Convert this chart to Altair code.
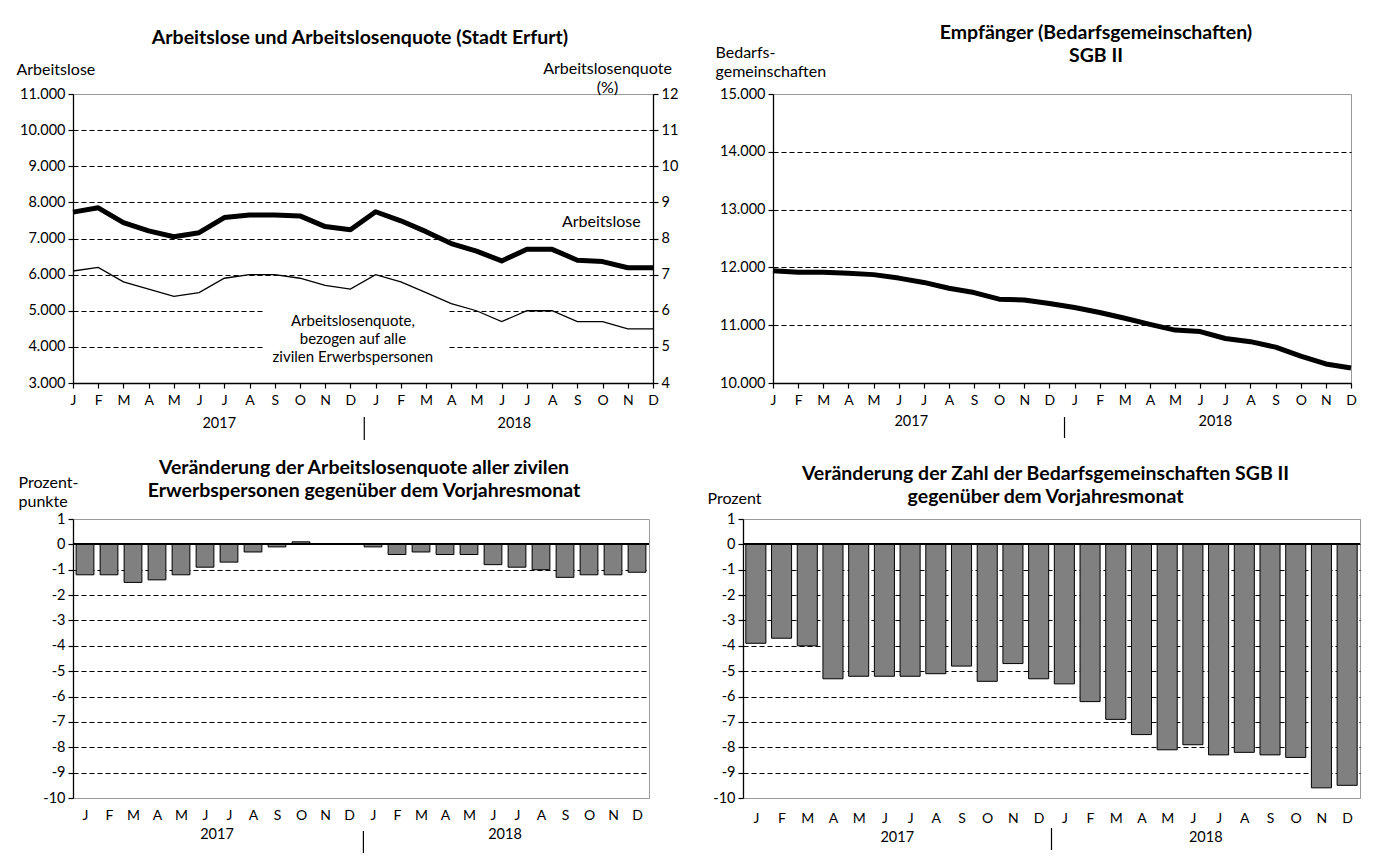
import altair as alt
import pandas as pd

FONT = "Lato"

# ---------------- data ----------------
months = ["J", "F", "M", "A", "M", "J", "J", "A", "S", "O", "N", "D"] * 2
month_idx = list(range(24))
years = ["2017", "2018"]

arbeitslose = [7730, 7850, 7440, 7210, 7050, 7160, 7580, 7650, 7650, 7625, 7330, 7240,
               7740, 7490, 7190, 6860, 6650, 6380, 6700, 6700, 6400, 6360, 6190, 6190]
quote = [7.1, 7.2, 6.8, 6.6, 6.4, 6.5, 6.9, 7.0, 7.0, 6.9, 6.7, 6.6,
         7.0, 6.8, 6.5, 6.2, 6.0, 5.7, 6.0, 6.0, 5.7, 5.7, 5.5, 5.5]
bedarfsgem = [11940, 11915, 11915, 11900, 11875, 11815, 11740, 11640, 11565, 11450, 11435, 11375,
              11305, 11220, 11120, 11015, 10915, 10890, 10770, 10715, 10620, 10465, 10330, 10260]
d_quote = [-1.2, -1.2, -1.5, -1.4, -1.2, -0.9, -0.7, -0.3, -0.1, 0.1, 0.0, 0.0,
           -0.1, -0.4, -0.3, -0.4, -0.4, -0.8, -0.9, -1.0, -1.3, -1.2, -1.2, -1.1]
d_bedarfsgem = [-3.9, -3.7, -4.0, -5.3, -5.2, -5.2, -5.2, -5.1, -4.8, -5.4, -4.7, -5.3,
                -5.5, -6.2, -6.9, -7.5, -8.1, -7.9, -8.3, -8.2, -8.3, -8.4, -9.6, -9.5]

al_ticks = list(range(3000, 11001, 1000))
q_ticks = list(range(4, 13))
bg_ticks = list(range(10000, 15001, 1000))
pct_ticks = list(range(-10, 2))

month_expr = "[" + ",".join("'%s'" % m for m in months) + "][datum.value]"
de_fmt = "replace(format(datum.value, ','), ',', '.')"
plain_fmt = "'' + datum.value"

GRID_DASH = [5, 3]
BORDER = "#9a9a9a"
BAR_FILL = "#808080"
TITLE_FS = 19.5
AXT_FS = 16
LBL_FS = 14.5
MON_FS = 14
ML_LH = 19.5
IN_FS = 15
IN_LH = 18


def grid_color(top, bottom=None):
    test = "datum.value == %s" % top
    if bottom is not None:
        test += " || datum.value == %s" % bottom
    return {"condition": {"test": test, "value": BORDER}, "value": "black"}


def year_layers(h, pos, sep, y_text, y_sep0, y_sep1, xsc, xax):
    ydf = pd.DataFrame({"pos": pos, "year": years})
    txt = alt.Chart(ydf).mark_text(font=FONT, fontSize=LBL_FS, baseline="middle", color="black").encode(
        x=alt.X("pos:Q", scale=xsc, axis=xax), y=alt.value(h + y_text), text="year:N")
    rule = alt.Chart(pd.DataFrame({"s": [sep]})).mark_rule(color="black", strokeWidth=1.2).encode(
        x=alt.X("s:Q", scale=xsc, axis=xax), y=alt.value(h + y_sep0), y2=alt.value(h + y_sep1))
    return txt, rule


# ---------------- shared x for line panels ----------------
sc_xl = alt.Scale(domain=[0, 23], nice=False, zero=False)
ax_xl = alt.Axis(values=month_idx, labelExpr=month_expr, title=None, grid=False,
                 tickSize=5, labelPadding=5, labelFontSize=MON_FS, labelAngle=0,
                 labelFlush=False, labelOverlap=False)

# ---------------- panel 1: Arbeitslose / Quote ----------------
W1, H1 = 580, 289
df1 = pd.DataFrame({"i": month_idx, "al": arbeitslose, "q": quote})
sc_al = alt.Scale(domain=[3000, 11000], nice=False, zero=False)
ax_al = alt.Axis(values=al_ticks, labelExpr=de_fmt, grid=True, gridDash=GRID_DASH,
                 gridColor=grid_color(11000), tickSize=5, labelPadding=3, labelFontSize=LBL_FS,
                 labelOverlap=False,
                 title="Arbeitslose", titleAngle=0, titleAlign="left", titleBaseline="top",
                 titleX=-57, titleY=-33)

left1 = alt.Chart(df1).mark_line(color="black", strokeWidth=5, strokeJoin="round").encode(
    x=alt.X("i:Q", scale=sc_xl, axis=ax_xl), y=alt.Y("al:Q", scale=sc_al, axis=ax_al))

box = pd.DataFrame({"x": [7.55], "x2": [14.85], "y": [3650], "y2": [5150]})
box_l = alt.Chart(box).mark_rect(color="white").encode(
    x=alt.X("x:Q", scale=sc_xl, axis=ax_xl), x2="x2:Q",
    y=alt.Y("y:Q", scale=sc_al, axis=ax_al), y2="y2:Q")

lab_al = pd.DataFrame({"x": [20.95], "y": [7470], "t": ["Arbeitslose"]})
lab_al_l = alt.Chart(lab_al).mark_text(font=FONT, fontSize=AXT_FS, color="black").encode(
    x=alt.X("x:Q", scale=sc_xl, axis=ax_xl), y=alt.Y("y:Q", scale=sc_al, axis=ax_al), text="t:N")
lab_q_l = alt.Chart(pd.DataFrame({"x": [11.1], "y": [4720]})).mark_text(
    font=FONT, fontSize=IN_FS, color="black", lineHeight=IN_LH,
    text=["Arbeitslosenquote,", "bezogen auf alle", "zivilen Erwerbspersonen"]).encode(
    x=alt.X("x:Q", scale=sc_xl, axis=ax_xl), y=alt.Y("y:Q", scale=sc_al, axis=ax_al))
yt1, ys1 = year_layers(H1, [5.8, 17.5], 11.55, 41, 34, 57, sc_xl, ax_xl)

right1 = alt.Chart(df1).mark_line(color="black", strokeWidth=1.3).encode(
    x=alt.X("i:Q", scale=sc_xl, axis=ax_xl),
    y=alt.Y("q:Q", scale=alt.Scale(domain=[4, 12], nice=False, zero=False),
            axis=alt.Axis(orient="right", values=q_ticks, labelExpr=plain_fmt, grid=False, tickSize=5,
                          labelPadding=3, labelFontSize=LBL_FS, labelOverlap=False,
                          title=["Arbeitslosenquote", "(%)"], titleAngle=0, titleAlign="center",
                          titleBaseline="top", titleX=-46, titleY=-34, titleLineHeight=ML_LH)))

p1 = alt.layer(alt.layer(box_l, left1, lab_al_l, lab_q_l, yt1, ys1), right1).resolve_scale(
    y="independent").properties(
    width=W1, height=H1,
    title=alt.TitleParams(["Arbeitslose und Arbeitslosenquote  (Stadt Erfurt)"], frame="group",
                          anchor="middle", offset=12, dx=-3))

# ---------------- panel 2: Bedarfsgemeinschaften ----------------
W2, H2 = 578, 289
df2 = pd.DataFrame({"i": month_idx, "bg": bedarfsgem})
line2 = alt.Chart(df2).mark_line(color="black", strokeWidth=5, strokeJoin="round").encode(
    x=alt.X("i:Q", scale=sc_xl, axis=ax_xl),
    y=alt.Y("bg:Q", scale=alt.Scale(domain=[10000, 15000], nice=False, zero=False),
            axis=alt.Axis(values=bg_ticks, labelExpr=de_fmt, grid=True, gridDash=GRID_DASH,
                          gridColor=grid_color(15000), tickSize=5, labelPadding=3, labelFontSize=LBL_FS,
                          labelOverlap=False,
                          title=["Bedarfs-", "gemeinschaften"], titleAngle=0, titleAlign="left",
                          titleBaseline="top", titleX=-58, titleY=-50, titleLineHeight=ML_LH)))
yt2, ys2 = year_layers(H2, [5.5, 17.6], 11.6, 39, 34, 55, sc_xl, ax_xl)
p2 = alt.layer(line2, yt2, ys2).properties(
    width=W2, height=H2,
    title=alt.TitleParams(["Empfänger (Bedarfsgemeinschaften)", "SGB II"], frame="group",
                          anchor="middle", offset=-22, dx=34, lineHeight=23))


# ---------------- bar panels ----------------
def bar_panel(values, w, h, half, ytitle, tX, tY, title, t_off, t_dx, lab_pad, ypos, sep, yy):
    df = pd.DataFrame({"i": month_idx, "v": values})
    xsc = alt.Scale(domain=[-0.5, 23.5], nice=False, zero=False)
    xax = alt.Axis(values=month_idx, labelExpr=month_expr, title=None, grid=False,
                   ticks=False, domain=False, labelPadding=lab_pad, labelFontSize=MON_FS,
                   labelAngle=0, labelFlush=False, labelOverlap=False)
    ysc = alt.Scale(domain=[-10, 1], nice=False, zero=False)
    yax = alt.Axis(values=pct_ticks, labelExpr=plain_fmt, grid=True, gridDash=GRID_DASH,
                   gridColor=grid_color(1, -10), tickSize=5, labelPadding=3, labelFontSize=LBL_FS,
                   labelOverlap=False,
                   title=ytitle, titleAngle=0, titleAlign="left", titleBaseline="top",
                   titleX=tX, titleY=tY, titleLineHeight=ML_LH)
    bars = alt.Chart(df).transform_calculate(
        xa="datum.i - %f" % half, xb="datum.i + %f" % half, z="0").mark_bar(
        fill=BAR_FILL, stroke="black", strokeWidth=1).encode(
        x=alt.X("xa:Q", scale=xsc, axis=xax), x2="xb:Q",
        y=alt.Y("v:Q", scale=ysc, axis=yax), y2="z:Q")
    zero = alt.Chart(df).mark_rule(color="black", strokeWidth=1.5).encode(
        y=alt.Y(datum=0, scale=ysc, axis=yax))
    yt, ys = year_layers(h, ypos, sep, yy[0], yy[1], yy[2], xsc, xax)
    return alt.layer(bars, zero, yt, ys).properties(
        width=w, height=h,
        title=alt.TitleParams(title, frame="group", anchor="middle", offset=t_off, dx=t_dx, lineHeight=23))


p3 = bar_panel(d_quote, 576, 279, 0.37, ["Prozent-", "punkte"], -55, -45,
               ["Veränderung der Arbeitslosenquote aller zivilen",
                "Erwerbspersonen gegenüber dem Vorjahresmonat"], -27, 3, 10,
               [5.5, 17.5], 11.6, (37, 33, 55))
p4 = bar_panel(d_bedarfsgem, 617, 279, 0.39, ["Prozent"], -36, -29,
               ["Veränderung der Zahl der Bedarfsgemeinschaften SGB II",
                "gegenüber dem Vorjahresmonat"], -17, -6, 13,
               [5.5, 17.5], 11.5, (40, 30, 52))

row1 = alt.hconcat(p1, p2, spacing=120, bounds="flush")
row2 = alt.hconcat(p3, p4, spacing=94, bounds="flush")
chart = alt.vconcat(row1, row2, spacing=425, bounds="flush").properties(
    padding={"left": 7, "top": 14, "right": 5, "bottom": 0}
).configure_view(stroke=BORDER, strokeWidth=1).configure_axis(
    labelFont=FONT, titleFont=FONT, titleFontSize=AXT_FS, titleFontWeight="normal",
    labelColor="black", titleColor="black", domainColor="black", tickColor="black",
    domainWidth=1.3, tickWidth=1.2, gridWidth=1
).configure_title(font=FONT, fontSize=TITLE_FS, fontWeight="bold", color="black")

chart.save("out.html", embed_options={"renderer": "svg", "actions": False})
